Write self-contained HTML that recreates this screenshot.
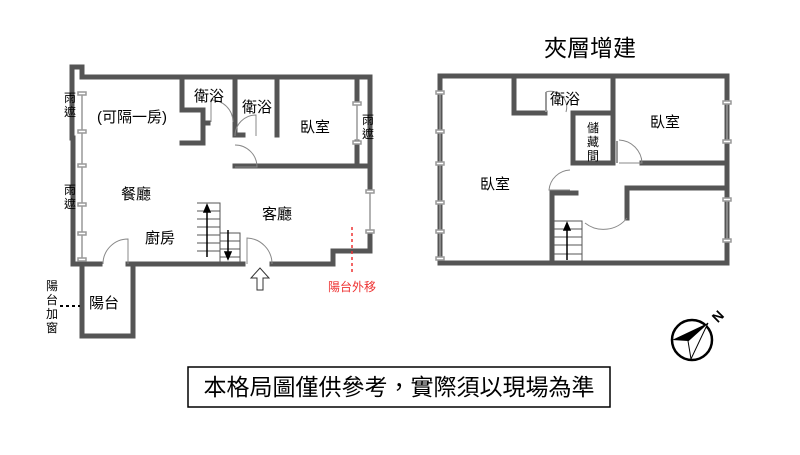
<!DOCTYPE html>
<html><head><meta charset="utf-8"><style>
html,body{margin:0;padding:0;background:#fff;}
text{font-family:"Liberation Sans","Noto Sans CJK TC",sans-serif;}
</style></head><body>
<svg width="800" height="450" viewBox="0 0 800 450" xmlns="http://www.w3.org/2000/svg">
<g stroke="#555" stroke-width="5" fill="none" stroke-linecap="square">
<path d="M72,67 L82,67 L82,77 L370,77 L370,190"/>
<path d="M72,67 L72,138 L73,138 L73,264 L100,264"/>
<path d="M128,264 L197,264 L243,264"/>
<path d="M272,264 L333,264 L333,251 L370,251 L370,232"/>
<path d="M82,264 L82,336 L133,336 L133,264"/>
<path d="M182,77 L182,110 L203,110 L203,143 L182,143"/>
<path d="M203,123 L208,123"/>
<path d="M235,77 L235,135 L243,135"/>
<path d="M277,77 L277,135"/>
<path d="M235,166 L370,166"/>
<path d="M357,77 L357,103"/>
<path d="M357,142 L357,166"/>
<path d="M440,76 L727,76 L727,263 L440,263 L440,76"/>
<path d="M514,76 L514,113 L545,113"/>
<path d="M613,76 L613,163 L573,163 L573,113 L613,113"/>
<path d="M642,163 L727,163"/>
<path d="M727,188 L627,188 L627,218"/>
<path d="M552,263 L552,193 L576,193"/>
</g>
<g stroke="#999" stroke-width="1.5" fill="#fff">
<line x1="82" y1="92" x2="82" y2="260"/>
<line x1="370" y1="192" x2="370" y2="230"/>
<line x1="357" y1="103" x2="357" y2="142"/>
<line x1="440" y1="92" x2="440" y2="260"/>
<line x1="727" y1="100" x2="727" y2="140"/>
<line x1="727" y1="200" x2="727" y2="240"/>
<rect x="78" y="92" width="8" height="3"/><rect x="78" y="130" width="8" height="3"/><rect x="78" y="164" width="8" height="3"/><rect x="78" y="203" width="8" height="3"/><rect x="78" y="232" width="8" height="3"/><rect x="78" y="258" width="8" height="3"/>
<rect x="366" y="190" width="8" height="3"/><rect x="366" y="230" width="8" height="3"/>
<rect x="353" y="102" width="8" height="3"/><rect x="353" y="141" width="8" height="3"/>
<rect x="436" y="91" width="8" height="3"/><rect x="436" y="130" width="8" height="3"/><rect x="436" y="162" width="8" height="3"/><rect x="436" y="201" width="8" height="3"/><rect x="436" y="230" width="8" height="3"/><rect x="436" y="257" width="8" height="3"/>
<rect x="723" y="101" width="8" height="3"/><rect x="723" y="140" width="8" height="3"/><rect x="723" y="198" width="8" height="3"/><rect x="723" y="239" width="8" height="3"/>
</g>
<g stroke="#888" stroke-width="1" fill="none">
<path d="M211,122 L211,100 A22,22 0 0 1 233,122"/>
<path d="M256,136 L256,115 A21,21 0 0 0 235,136"/>
<path d="M235,145 A22,22 0 0 1 257,167 L235,167"/>
<path d="M103,264 A25,25 0 0 1 128,239 L128,264"/>
<path d="M247,264 L247,238 A26,26 0 0 1 272,264"/>
<path d="M546,92 A16,16 0 0 1 566,112"/>
<path d="M619,140 A24,24 0 0 1 642,163 L619,163"/>
<path d="M570,170 A22,22 0 0 0 549,190 L570,190"/>
<path d="M627,218 A30,30 0 0 1 585,223"/>
</g>
<g stroke="#999" stroke-width="2"><line x1="546" y1="92" x2="546" y2="112"/><line x1="617" y1="141" x2="617" y2="163"/></g>
<g stroke="#555" stroke-width="1" fill="none">
<path d="M197,203 L220,203 L220,264 M220,233 L240,233 L240,264"/>
<path d="M197,211H220M197,219H220M197,227H220M197,235H220M197,243H220M197,251H220M220,241H240M220,249H240M220,257H240"/>
<path d="M553,221 L582,221 L582,263 M553,229H582M553,237H582M553,245H582M553,254H582"/>
</g>
<g stroke="#000" stroke-width="1.5" fill="#000">
<line x1="207" y1="257" x2="207" y2="208"/><path d="M204,212 L207,205 L210,212Z"/>
<line x1="228" y1="230" x2="228" y2="255"/><path d="M225,252 L228,259 L231,252Z"/>
<line x1="567" y1="260" x2="567" y2="226"/><path d="M564,230 L567,223 L570,230Z"/>
</g>
<path d="M257,290 L257,278 L251,278 L260,268 L269,278 L263,278 L263,290 Z" fill="#fff" stroke="#333" stroke-width="1"/>
<line x1="352" y1="227" x2="352" y2="275" stroke="#e33" stroke-width="1.5" stroke-dasharray="3,3"/>
<line x1="60" y1="306" x2="80" y2="306" stroke="#000" stroke-width="2" stroke-dasharray="3,3"/>
<g font-size="15" fill="#000">
<text x="97" y="122">(可隔一房)</text>
<text x="194" y="101">衛浴</text>
<text x="242" y="112">衛浴</text>
<text x="300" y="132">臥室</text>
<text x="121" y="199">餐廳</text>
<text x="145" y="243">廚房</text>
<text x="262" y="219">客廳</text>
<text x="89" y="308">陽台</text>
<text x="550" y="104">衛浴</text>
<text x="650" y="127">臥室</text>
<text x="480" y="189">臥室</text>
</g>
<g font-size="12" fill="#000">
<text x="64" y="102">雨</text><text x="64" y="116">遮</text>
<text x="64" y="194">雨</text><text x="64" y="208">遮</text>
<text x="362" y="124">雨</text><text x="362" y="138">遮</text>
<text x="46" y="290">陽</text><text x="46" y="304">台</text><text x="46" y="318">加</text><text x="46" y="332">窗</text>
<text x="587" y="132">儲</text><text x="587" y="146">藏</text><text x="587" y="160">間</text>
<text x="328" y="291" fill="#e33">陽台外移</text>
</g>
<text x="590" y="56" font-size="23" text-anchor="middle">夾層增建</text>
<circle cx="692" cy="340" r="20" fill="none" stroke="#000" stroke-width="2.5"/>
<path d="M708,323 L672,340 L688,341 Z" fill="#000"/>
<path d="M708,323 L688,341 L691,359 Z" fill="#fff" stroke="#000" stroke-width="1"/>
<text x="713" y="322" font-size="14" font-weight="bold" transform="rotate(-45 717 317)">N</text>
<rect x="188" y="367" width="422" height="40" fill="#fff" stroke="#000" stroke-width="1.5"/>
<text x="399" y="395" font-size="23" text-anchor="middle">本格局圖僅供參考，實際須以現場為準</text>
</svg>
</body></html>
